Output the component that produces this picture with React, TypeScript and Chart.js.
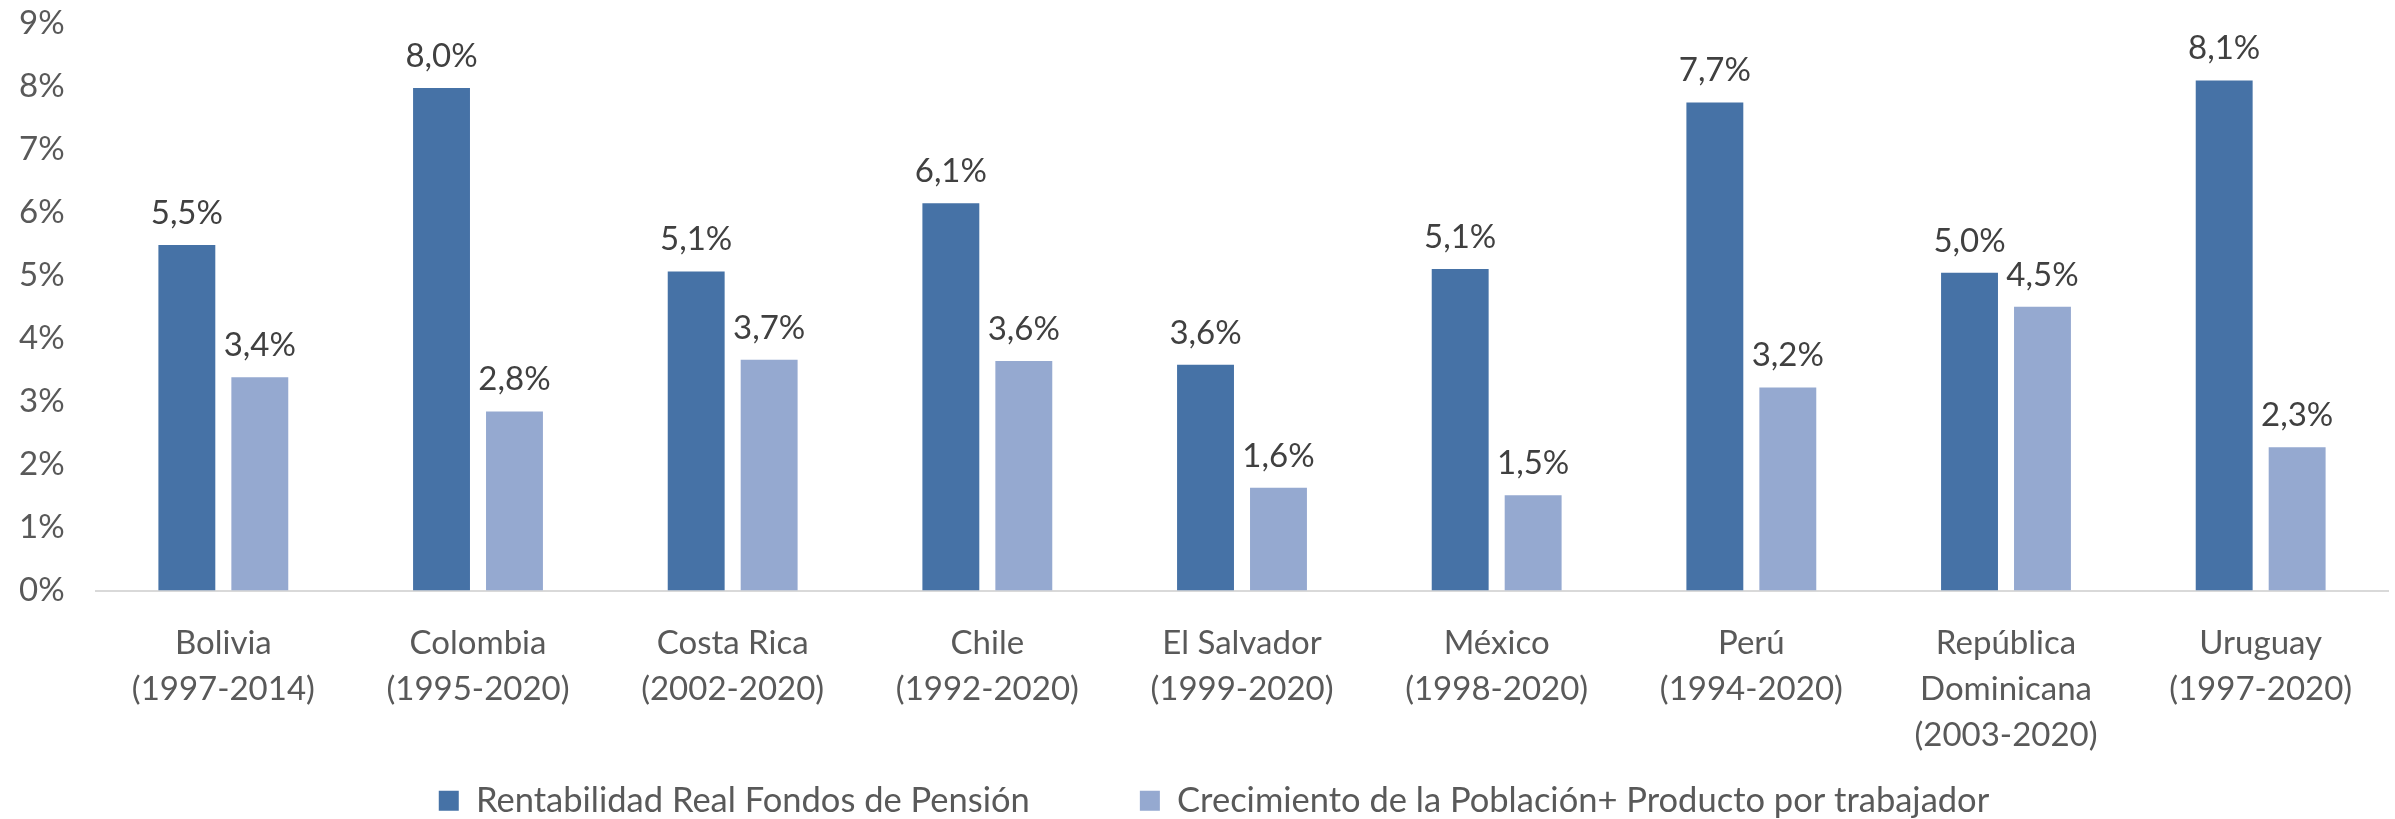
import React, { useEffect, useRef } from 'react';
import { Chart, registerables } from 'chart.js';

Chart.register(...registerables);

const categories: string[][] = [
  ['Bolivia', '(1997-2014)'],
  ['Colombia', '(1995-2020)'],
  ['Costa Rica', '(2002-2020)'],
  ['Chile', '(1992-2020)'],
  ['El Salvador', '(1999-2020)'],
  ['México', '(1998-2020)'],
  ['Perú', '(1994-2020)'],
  ['República', 'Dominicana', '(2003-2020)'],
  ['Uruguay', '(1997-2020)'],
];

const seriesNames = [
  'Rentabilidad Real Fondos de Pensión',
  'Crecimiento de la Población+ Producto por trabajador',
];

const rentabilidad = [5.48, 7.97, 5.06, 6.14, 3.58, 5.1, 7.74, 5.04, 8.09];
const crecimiento = [3.38, 2.84, 3.66, 3.64, 1.63, 1.51, 3.22, 4.5, 2.27];

const yMin = 0;
const yMax = 9;
const yStep = 1;

const DARK = '#4672A6';
const LIGHT = '#95A9D0';
const FONT = 'Lato';

const valueLabels = {
  id: 'valueLabels',
  afterDatasetsDraw(chart: any) {
    const ctx = chart.ctx;
    ctx.save();
    ctx.font = `33px ${FONT}`;
    ctx.fillStyle = '#404040';
    ctx.textAlign = 'center';
    ctx.textBaseline = 'alphabetic';
    chart.data.datasets.forEach((ds: any, di: number) => {
      const meta = chart.getDatasetMeta(di);
      meta.data.forEach((bar: any, i: number) => {
        const v = ds.data[i] as number;
        ctx.fillText(v.toFixed(1).replace('.', ',') + '%', bar.x, bar.y - 21);
      });
    });
    ctx.restore();
  },
};

export default function App() {
  const ref = useRef<HTMLCanvasElement>(null);

  useEffect(() => {
    if (!ref.current) return;
    Chart.defaults.font.family = FONT;
    const chart = new Chart(ref.current, {
      type: 'bar',
      data: {
        labels: categories,
        datasets: [
          {
            label: seriesNames[0],
            data: rentabilidad,
            backgroundColor: DARK,
            categoryPercentage: 0.573,
            barPercentage: 0.78,
          },
          {
            label: seriesNames[1],
            data: crecimiento,
            backgroundColor: LIGHT,
            categoryPercentage: 0.573,
            barPercentage: 0.78,
          },
        ],
      },
      options: {
        responsive: false,
        animation: false,
        layout: { padding: { top: 23, right: 7, left: 40, bottom: 0 } },
        scales: {
          x: {
            grid: { display: false, drawTicks: false },
            border: { display: true, color: '#D9D9D9', width: 2 },
            ticks: {
              color: '#595959',
              font: { size: 33, lineHeight: 1.394 },
              padding: -76,
              maxRotation: 0,
              autoSkip: false,
              mirror: true,
            },
            afterFit: (s: any) => {
              s.height = 83;
              s.paddingLeft = 0;
              s.paddingRight = 0;
            },
          },
          y: {
            min: yMin,
            max: yMax,
            grid: { display: false },
            border: { display: false },
            ticks: {
              stepSize: yStep,
              color: '#595959',
              font: { size: 33 },
              mirror: true,
              padding: -77,
              callback: (v: any) => v + '%',
            },
            afterFit: (s: any) => {
              s.width = 56;
              s.paddingTop = 0;
              s.paddingBottom = 0;
            },
          },
        },
        plugins: {
          legend: {
            position: 'bottom',
            labels: {
              boxWidth: 20,
              boxHeight: 20,
              padding: 110,
              color: '#595959',
              font: { size: 34.5 },
            },
          },
          tooltip: { enabled: false },
        },
      },
      plugins: [valueLabels],
    });
    return () => chart.destroy();
  }, []);

  return (
    <div
      style={{
        position: 'absolute',
        left: 0,
        top: 0,
        width: 2395,
        height: 819,
        overflow: 'hidden',
        background: '#ffffff',
      }}
    >
      <canvas
        ref={ref}
        width={2395}
        height={828}
        style={{ display: 'block', width: 2395, height: 828 }}
      />
    </div>
  );
}
